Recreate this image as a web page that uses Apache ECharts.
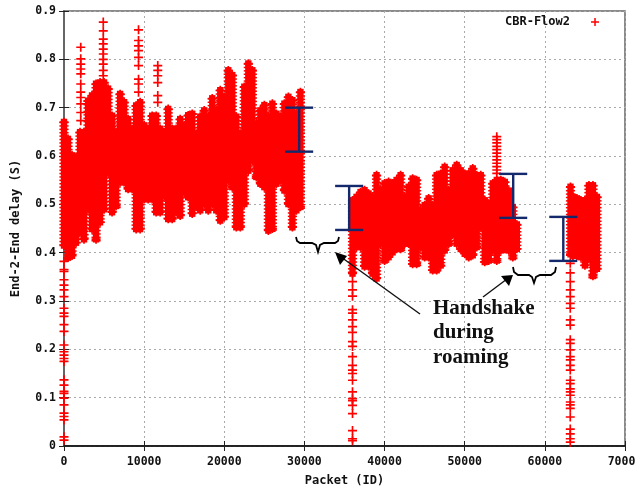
<!DOCTYPE html>
<html><head><meta charset="utf-8">
<style>html,body{margin:0;padding:0;background:#fff}#c{width:636px;height:488px}</style>
<script src="https://cdn.jsdelivr.net/npm/echarts@6/dist/echarts.min.js"></script>
</head><body><div id="c"></div>
<script>
// Column envelopes: [packet, low, high]
const seg1 = [[0,.408,.677],[500,.383,.642],[1000,.387,.608],[1500,.414,.604],[2000,.435,.656],[2500,.421,.656],[3000,.483,.721],[3500,.442,.732],[4000,.421,.756],[4500,.456,.759],[5000,.483,.759],[5500,.559,.746],[6000,.477,.69],[6500,.49,.656],[7000,.539,.735],[7500,.539,.718],[8000,.525,.683],[8500,.525,.663],[9000,.442,.711],[9500,.442,.718],[10000,.504,.67],[10500,.504,.663],[11000,.504,.69],[11500,.477,.69],[12000,.477,.663],[12500,.511,.656],[13000,.463,.704],[13500,.463,.663],[14000,.477,.663],[14500,.47,.683],[15000,.518,.67],[15500,.508,.691],[16000,.474,.694],[16500,.488,.653],[17000,.481,.688],[17500,.494,.701],[18000,.481,.688],[18500,.494,.726],[19000,.481,.701],[19500,.46,.743],[20000,.467,.729],[20500,.543,.784],[21000,.529,.774],[21500,.446,.688],[22000,.446,.653],[22500,.494,.75],[23000,.563,.798],[23500,.584,.784],[24000,.55,.674],[24500,.536,.701],[25000,.529,.712],[25500,.439,.688],[26000,.443,.715],[26500,.536,.694],[27000,.543,.688],[27500,.522,.715],[28000,.494,.729],[28500,.446,.722],[29000,.481,.694],[29500,.488,.739]];
const seg2 = [[36000,.35,.515],[36500,.405,.522],[37000,.405,.532],[37500,.365,.536],[38000,.365,.529],[38500,.35,.522],[39000,.34,.567],[39500,.412,.536],[40000,.377,.55],[40500,.384,.553],[41000,.394,.55],[41500,.401,.557],[42000,.401,.567],[42500,.412,.522],[43000,.412,.543],[43500,.37,.56],[44000,.37,.557],[44500,.405,.494],[45000,.384,.505],[45500,.384,.519],[46000,.357,.505],[46500,.357,.567],[47000,.367,.57],[47500,.398,.584],[48000,.412,.536],[48500,.432,.577],[49000,.412,.588],[49500,.401,.577],[50000,.391,.57],[50500,.384,.57],[51000,.388,.581],[51500,.405,.567],[52000,.446,.567],[52500,.374,.515],[53000,.377,.508],[53500,.398,.55],[54000,.377,.557],[54500,.398,.557],[55000,.401,.553],[55500,.398,.535],[56000,.384,.501],[56500,.401,.465]];
const seg3 = [[63200,.39,.543],[63500,.387,.522],[64000,.387,.519],[64500,.384,.515],[65000,.367,.515],[65500,.381,.546],[66000,.345,.546],[66500,.36,.522]];
// Isolated + marks: [packet, delay]
const spikeStart = [.382,.365,.361,.344,.333,.323,.309,.285,.275,.268,.251,.237,.209,.195,.188,.181,.175,.137,.126,.113,.109,.099,.085,.068,.061,.054,.019,.012];
const spikeRoam1 = [.34,.323,.31,.282,.275,.261,.247,.235,.216,.206,.185,.167,.157,.15,.136,.112,.098,.094,.084,.067,.032,.015,.011];
const spikeRoam2 = [.378,.358,.34,.323,.309,.295,.285,.261,.25,.22,.2125,.199,.185,.178,.167,.157,.136,.129,.118,.112,.105,.091,.085,.078,.06,.035,.025,.015,.008];
const peak2000 = [.825,.801,.79,.78,.77,.749,.732,.721,.708,.69,.673];
const peak4900 = [.877,.859,.842,.832,.821,.811,.8,.79,.777,.766];
const peak9300 = [.861,.839,.828,.818,.804,.787,.759,.749,.732];
const peak11700 = [.787,.777,.766,.752,.725,.711];
const peak54000 = [.64,.634,.627,.62,.613,.606,.599,.592,.585,.578,.571,.564];
const xTicks = {min:0,max:70000,interval:10000};
const yTicks = {min:0,max:0.9,interval:0.1};
// Measured ranges annotated in navy: [packet, low, high]
const ranges = [[29340,.609,.70],[35580,.447,.538],[56050,.472,.563],[62300,.383,.474]];
const capHalf = 1750;
const labelLines = ['Handshake','during','roaming'];

const PLUS='path://M3.25 0h1.5v3.25h3.25v1.5h-3.25v3.25h-1.5v-3.25h-3.25v-1.5h3.25z';
const mono='"DejaVu Sans Mono","Liberation Mono",monospace';
const columns=[...seg1,...seg2,...seg3];
const at=(p,a)=>a.map(v=>[p,v]);
const marks=[
 ...columns.flatMap(c=>[[c[0],c[1]+.007],[c[0],c[2]-.007]]),
 ...at(0,spikeStart),...at(36000,spikeRoam1),...at(63170,spikeRoam2),
 ...at(2090,peak2000),...at(4900,peak4900),...at(9300,peak9300),...at(11700,peak11700),...at(54000,peak54000)
];
const axisCommon={axisTick:{inside:true,length:5,lineStyle:{color:'#222'}}};
const nameStyle={fontFamily:mono,fontWeight:'bold',fontSize:12,color:'#111'};
const labelStyle={fontFamily:mono,fontWeight:'bold',fontSize:11.5,color:'#111'};
const gridLine={show:true,lineStyle:{color:'#aaa',type:[2,3],width:1}};
const chart=echarts.init(document.getElementById('c'),null,{renderer:'canvas'});
chart.setOption({
 animation:false,backgroundColor:'#fff',
 grid:{left:64,right:11,top:11,bottom:42,outerBoundsMode:'none',containLabel:false,show:true,borderColor:'#666',borderWidth:1.5,backgroundColor:'transparent'},
 legend:{data:[{name:'CBR-Flow2',icon:PLUS}],top:11,left:500,align:'right',itemWidth:8,itemHeight:8,
   textStyle:{fontFamily:mono,fontWeight:'bold',fontSize:12,color:'#111',padding:[0,16,0,0]}},
 xAxis:[
  {type:'value',...xTicks,name:'Packet (ID)',nameLocation:'middle',nameGap:29,...axisCommon,
   axisLine:{show:true,lineStyle:{color:'#000',width:1.5}},
   nameTextStyle:nameStyle,
   axisLabel:{...labelStyle,margin:10,hideOverlap:false,showMaxLabel:true,formatter:v=>String(v)},
   splitLine:gridLine},
  {type:'value',...xTicks,position:'top',...axisCommon,axisLine:{show:false},axisLabel:{show:false},splitLine:{show:false}}
 ],
 yAxis:[
  {type:'value',...yTicks,name:'End-2-End delay (S)',nameLocation:'middle',nameGap:42,...axisCommon,
   axisLine:{show:true,lineStyle:{color:'#666',width:2}},
   nameTextStyle:nameStyle,
   axisLabel:{...labelStyle,margin:8,formatter:v=>String(+v.toFixed(1))},
   splitLine:gridLine},
  {type:'value',...yTicks,position:'right',...axisCommon,axisLine:{show:false},axisLabel:{show:false},splitLine:{show:false}}
 ],
 series:[
  {type:'custom',silent:true,clip:false,z:2,data:columns,encode:{x:0,y:[1,2]},
   renderItem:(p,api)=>{
     const a=api.coord([api.value(0),api.value(1)]),b=api.coord([api.value(0),api.value(2)]);
     const kids=[{type:'rect',shape:{x:a[0]-3.2,y:b[1],width:6.4,height:a[1]-b[1]},style:{fill:'#ff0000'}}];
     // stacked + arms so the column edge reads as overlapping marks
     for(let y=b[1]+3;y<a[1]-2;y+=3.4)kids.push({type:'rect',shape:{x:a[0]-4.6,y:y,width:9.2,height:1.5},style:{fill:'#ff0000'}});
     return {type:'group',children:kids};
   }},
  {name:'CBR-Flow2',type:'scatter',silent:true,clip:false,z:3,symbol:PLUS,symbolSize:9,
   itemStyle:{color:'#ff0000',opacity:1},data:marks},
  {type:'custom',silent:true,clip:false,z:5,data:ranges,encode:{x:0,y:[1,2]},
   renderItem:(p,api)=>{
     const x=api.value(0),lo=api.value(1),hi=api.value(2);
     const c=(u,v)=>api.coord([u,v]);
     const st={stroke:'#14296b',lineWidth:2.4,fill:null};
     const line=(A,B)=>({type:'line',shape:{x1:A[0],y1:A[1],x2:B[0],y2:B[1]},style:st});
     return {type:'group',children:[
       line(c(x,lo),c(x,hi)),
       line(c(x-capHalf,lo),c(x+capHalf,lo)),
       line(c(x-capHalf,hi),c(x+capHalf,hi))]};
   }}
 ],
 graphic:[
  {type:'polyline',z:10,shape:{points:[[296,237],[297,241],[300,243],[312,243],[316,245],[318,252],[320,245],[324,243],[335,243],[338,241],[339,237]]},style:{stroke:'#000',lineWidth:1.8,fill:null}},
  {type:'polyline',z:10,shape:{points:[[513,267],[514,272],[518,275],[529,275],[532,277],[534,283],[536,277],[540,275],[551,275],[555,272],[556,267]]},style:{stroke:'#000',lineWidth:1.8,fill:null}},
  {type:'line',z:10,shape:{x1:420,y1:314,x2:341,y2:257},style:{stroke:'#111',lineWidth:1.4}},
  {type:'polygon',z:10,shape:{points:[[335,252],[347,256],[340,265]]},style:{fill:'#000'}},
  {type:'line',z:10,shape:{x1:483,y1:297,x2:507,y2:279},style:{stroke:'#111',lineWidth:1.4}},
  {type:'polygon',z:10,shape:{points:[[513,275],[509,286],[501,276]]},style:{fill:'#000'}},
  ...labelLines.map((t,i)=>({type:'text',z:10,left:433,top:298+i*24.5,
     style:{text:t,font:'bold 21px "Liberation Serif",serif',fill:'#111'}}))
 ]
});
</script></body></html>
